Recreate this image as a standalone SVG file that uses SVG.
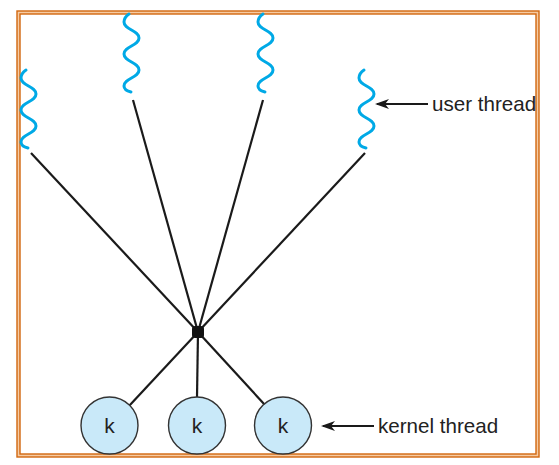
<svg xmlns="http://www.w3.org/2000/svg" xmlns:xlink="http://www.w3.org/1999/xlink" width="559" height="465" viewBox="0 0 559 465">
<style>
.frame-band{fill:#ffffff;stroke:#f6cba3;stroke-width:3}
.frame-line{fill:none;stroke:#d2670f;stroke-width:1.4}
.wave{fill:none;stroke:#00a9e6;stroke-width:3;stroke-linecap:round}
.conn{stroke:#1a1a1a;stroke-width:2.2;fill:none}
.kcircle{fill:#c9e9f9;stroke:#333333;stroke-width:1.4}
.klabel{font-family:"Liberation Sans",Arial,sans-serif;font-size:21px;fill:#222222;text-anchor:middle}
.label{font-family:"Liberation Sans",Arial,sans-serif;font-size:20.6px;fill:#222222}
.arrow{stroke:#1a1a1a;stroke-width:2;fill:none;marker-end:url(#ah)}
</style>
<defs>
<marker id="ah" markerWidth="14" markerHeight="10" refX="12" refY="5" orient="auto" markerUnits="userSpaceOnUse">
<path d="M0,0 L14,5 L0,10 L4,5 Z" fill="#1a1a1a"/>
</marker>
<path id="wave" d="M5,0 C2,2 0,5 0,8 C0,16 15,16 15,24 C15,32 0,32 0,40 C0,48 15,48 15,56 C15,64 0,64 0,72 C0,75 3,77 7,78"/>
</defs>
<rect class="frame-band" x="18.5" y="12.5" width="519" height="443"/>
<rect class="frame-line" x="17" y="11" width="522" height="446"/>
<rect class="frame-line" x="20" y="14" width="516" height="440"/>
<g id="connectors">
<line class="conn" x1="31" y1="153" x2="198" y2="332"/>
<line class="conn" x1="133" y1="100" x2="198" y2="332"/>
<line class="conn" x1="263" y1="100" x2="198" y2="332"/>
<line class="conn" x1="365" y1="153" x2="198" y2="332"/>
<line class="conn" x1="198" y1="332" x2="129" y2="406"/>
<line class="conn" x1="198" y1="332" x2="197" y2="397"/>
<line class="conn" x1="198" y1="332" x2="265" y2="405"/>
<line class="arrow" x1="428" y1="104" x2="377" y2="104"/>
<line class="arrow" x1="374" y1="426" x2="323" y2="426"/>
</g>
<g id="user-thread-1"><use xlink:href="#wave" class="wave" transform="translate(21,70)"/></g>
<g id="user-thread-2"><use xlink:href="#wave" class="wave" transform="translate(124,14)"/></g>
<g id="user-thread-3"><use xlink:href="#wave" class="wave" transform="translate(258,14)"/></g>
<g id="user-thread-4"><use xlink:href="#wave" class="wave" transform="translate(359,70)"/></g>
<g id="hub"><rect x="192" y="326" width="12" height="12" rx="3" fill="#111111"/></g>
<g id="kernel-thread-1"><circle class="kcircle" cx="109.5" cy="425.5" r="28.5"/><text class="klabel" x="109.5" y="433">k</text></g>
<g id="kernel-thread-2"><circle class="kcircle" cx="197" cy="425.5" r="28.5"/><text class="klabel" x="197" y="433">k</text></g>
<g id="kernel-thread-3"><circle class="kcircle" cx="283" cy="425.5" r="28.5"/><text class="klabel" x="283" y="433">k</text></g>
<g id="label-user"><text class="label" x="432" y="111">user thread</text></g>
<g id="label-kernel"><text class="label" x="378" y="433">kernel thread</text></g>
</svg>
